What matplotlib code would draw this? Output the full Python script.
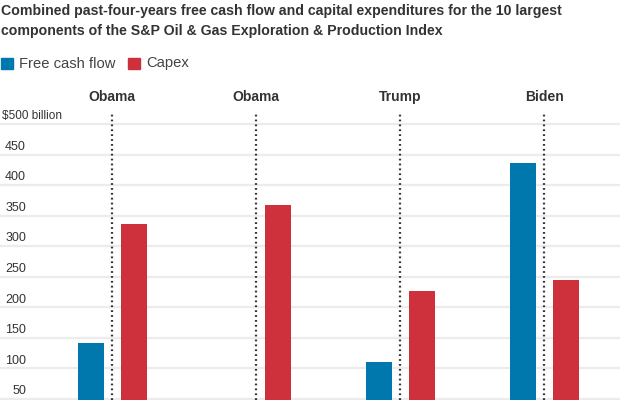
import numpy as np
import matplotlib
matplotlib.use("Agg")
import matplotlib.pyplot as plt

# values in $ billion
presidents = ["Obama", "Obama", "Trump", "Biden"]
free_cash_flow = [142, 20, 111, 437]
capex = [337, 368, 227, 245]
tick_values = [50, 100, 150, 200, 250, 300, 350, 400, 450, 500]

blue = "#0077ad"
red = "#cf313c"
text_col = "#333333"
fonts = ["Liberation Sans Narrow", "Liberation Sans", "DejaVu Sans"]

W, H = 620, 400
fig = plt.figure(figsize=(W / 100, H / 100), dpi=100)


def fy(px):
    return 1 - px / H


def fx(px):
    return px / W


# plot area: from the dotted lines' top (y=112) to the bottom edge
ax = fig.add_axes([0, 0, 1, fy(112)])
x = np.arange(len(presidents))
ax.set_xlim(-112 / 144, 3 + 76 / 144)
ax.set_ylim(48.4, 519.7)

for v in tick_values:
    ax.axhline(v, color="#ececec", lw=1.6, zorder=0)

ax.bar(x - 0.148, free_cash_flow, width=0.18, color=blue, zorder=2)
ax.bar(x + 0.15, capex, width=0.18, color=red, zorder=2)

for xi in x:
    ax.axvline(xi, color="#333333", lw=1.6, ls=(0, (0.8, 1.4)), zorder=3)

ax.axis("off")

# y labels drawn above the grid lines
for v in tick_values:
    if v == 500:
        ax.text(fx(2), v + 3, r"\$500 billion", transform=ax.get_yaxis_transform(),
                ha="left", va="bottom", fontsize=8.5, color=text_col, family=fonts)
    else:
        ax.text(fx(26), v + 3, str(v), transform=ax.get_yaxis_transform(),
                ha="right", va="bottom", fontsize=9, color=text_col, family=fonts)

for xi, name in zip(x, presidents):
    fig.text(fx(112 + 144 * xi), fy(97), name, ha="center", va="center",
             fontsize=10, fontweight="bold", color=text_col, family=fonts)

# title
fig.text(fx(1), fy(15), "Combined past-four-years free cash flow and capital expenditures for the 10 largest",
         ha="left", va="baseline", fontsize=10.2, fontweight="bold", color=text_col, family=fonts)
fig.text(fx(1), fy(35), "components of the S&P Oil & Gas Exploration & Production Index",
         ha="left", va="baseline", fontsize=10.2, fontweight="bold", color=text_col, family=fonts)

# legend
fig.patches.append(plt.Rectangle((fx(1), fy(69)), fx(12), 11 / H, color=blue,
                                 transform=fig.transFigure, figure=fig))
fig.text(fx(19), fy(63.5), "Free cash flow", ha="left", va="center",
         fontsize=10.6, color="#444444", family=fonts)
fig.patches.append(plt.Rectangle((fx(128), fy(69)), fx(12), 11 / H, color=red,
                                 transform=fig.transFigure, figure=fig))
fig.text(fx(146), fy(63.5), "Capex", ha="left", va="center",
         fontsize=10.6, color="#444444", family=fonts)

fig.savefig("out.png", dpi=100)
